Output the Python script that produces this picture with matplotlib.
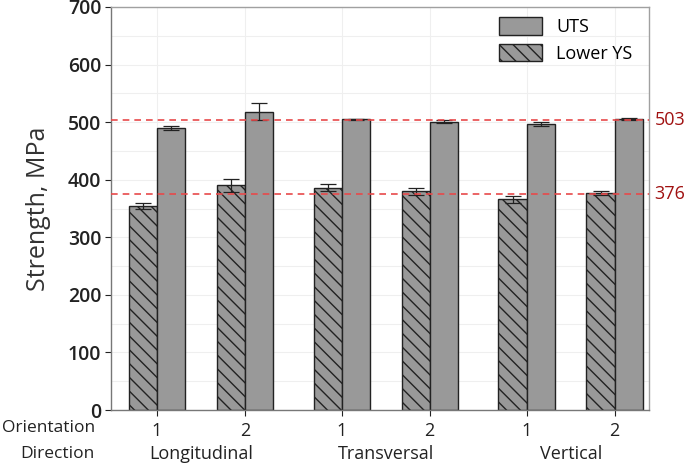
import matplotlib.pyplot as plt
import numpy as np

plt.rcParams['font.family'] = ['Open Sans', 'DejaVu Sans']

orientation = ["1", "2", "1", "2", "1", "2"]
directions = ["Longitudinal", "Transversal", "Vertical"]
lower_ys = [354, 390, 386, 380, 366, 377]
lower_ys_err = [5, 11, 6, 6, 6, 4]
uts = [490, 518, 505, 501, 497, 505]
uts_err = [3, 15, 1, 3, 4, 2]
ref_values = [503, 376]

pos = np.array([0, 1, 2.1, 3.1, 4.2, 5.2])
w = 0.32

# render at a higher dpi so the hatch comes out denser; k keeps sizes in pixels
DPI = 124
k = 100 / DPI
plt.rcParams['hatch.linewidth'] = 1.0 * k

fig = plt.figure(figsize=(685 / DPI, 467 / DPI), dpi=DPI)
ax = fig.add_axes([111/685, 57/467, 538/685, 403/467])

ax.set_axisbelow(True)
ax.grid(True, which='both', color='#efefef', lw=0.8 * k)

ax.bar(pos - w/2, lower_ys, w, color='#999999', edgecolor='#222222', lw=1.0 * k,
       hatch='\\\\\\', label='Lower YS', zorder=2)
ax.bar(pos + w/2, uts, w, color='#999999', edgecolor='#222222', lw=1.0 * k,
       label='UTS', zorder=2)
ax.errorbar(pos - w/2, lower_ys, yerr=lower_ys_err, fmt='none', ecolor='#222222',
            elinewidth=0.9 * k, capsize=6 * k, capthick=0.9 * k, zorder=3)
ax.errorbar(pos + w/2, uts, yerr=uts_err, fmt='none', ecolor='#222222',
            elinewidth=0.9 * k, capsize=6 * k, capthick=0.9 * k, zorder=3)

for v in ref_values:
    ax.axhline(v, color='#e8494a', ls=(0, (4, 3)), lw=1.2 * k, zorder=4)
    ax.text(1.01, v, str(v), transform=ax.get_yaxis_transform(), color='#a01010',
            fontsize=13 * k, va='center', ha='left')

ax.set_xlim(-0.52, 5.59)
ax.set_ylim(0, 700)
ax.set_yticks(np.arange(0, 701, 100))
ax.set_yticks(np.arange(50, 700, 100), minor=True)
ax.tick_params(axis='y', which='minor', length=0)
ax.set_xticks(pos)
ax.set_xticklabels(orientation)
ax.tick_params(axis='both', labelsize=13 * k, colors='#222222', length=4 * k,
               width=0.8 * k, pad=3 * k)
ax.tick_params(axis='y', labelsize=14 * k)
ax.tick_params(axis='x', pad=5 * k)
for lab in ax.get_yticklabels():
    lab.set_fontweight('semibold')
for s in ax.spines.values():
    s.set_color('#a0a0a0')
    s.set_linewidth(1.0 * k)
ax.spines['left'].set_color('#777777')
ax.spines['bottom'].set_color('#777777')

ax.set_ylabel('Strength, MPa', fontsize=18 * k, color='#333333', labelpad=12 * k)

ax.text(-0.03, -0.045, 'Orientation', transform=ax.transAxes, ha='right', va='center',
        fontsize=12.5 * k, color='#222222')
ax.text(-0.03, -0.11, 'Direction', transform=ax.transAxes, ha='right', va='center',
        fontsize=12.5 * k, color='#222222')
for i, d in enumerate(directions):
    xc = (pos[2*i] + pos[2*i+1]) / 2
    ax.text(xc, -0.11, d, transform=ax.get_xaxis_transform(), ha='center', va='center',
            fontsize=13 * k, color='#222222')

h, l = ax.get_legend_handles_labels()
ax.legend(h[::-1], l[::-1], loc='upper right', bbox_to_anchor=(1.0, 1.015), frameon=False,
          fontsize=13 * k, handlelength=2.4, handleheight=1.1, labelspacing=0.45,
          handletextpad=0.8)

fig.savefig('out.png', dpi=DPI)
